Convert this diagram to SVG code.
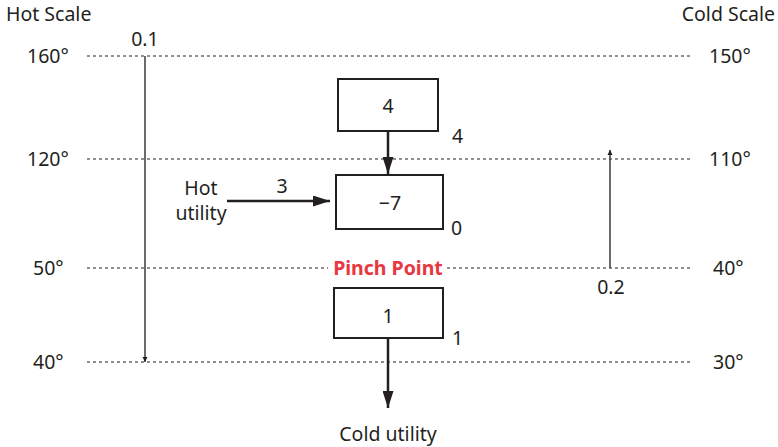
<svg xmlns="http://www.w3.org/2000/svg" width="778" height="447" viewBox="0 0 778 447">
<defs>
<style>
text{font-family:"Noto Sans","Open Sans",sans-serif;font-size:19.5px;fill:#231f20}
.dash{stroke:#231f20;stroke-width:1;stroke-dasharray:3 3;fill:none}
.thin{stroke:#3a3a3a;stroke-width:1.5;fill:none}
.thick{stroke:#231f20;stroke-width:2.5;fill:none}
.box{fill:#fff;stroke:#231f20;stroke-width:2}
.m{text-anchor:middle}
</style>
<marker id="sm" viewBox="0 0 10 10" refX="10" refY="5" markerWidth="5" markerHeight="8" markerUnits="userSpaceOnUse" orient="auto"><path d="M0,0L10,5L0,10z" fill="#231f20"/></marker>
<marker id="lg" viewBox="0 0 10 10" refX="10" refY="5" markerWidth="17" markerHeight="11" markerUnits="userSpaceOnUse" orient="auto" preserveAspectRatio="none"><path d="M0,0L10,5L0,10z" fill="#231f20"/></marker>
</defs>
<g id="scales">
<text x="6" y="21">Hot Scale</text>
<text x="775" y="21" text-anchor="end">Cold Scale</text>
<text x="27" y="63">160°</text>
<text x="27" y="166">120°</text>
<text x="33" y="275">50°</text>
<text x="33" y="369">40°</text>
<text x="709" y="63">150°</text>
<text x="709" y="166">110°</text>
<text x="713" y="275">40°</text>
<text x="713" y="369">30°</text>
<line class="dash" x1="87" y1="56" x2="692" y2="56"/>
<line class="dash" x1="87" y1="159" x2="692" y2="159"/>
<line class="dash" x1="87" y1="268" x2="328" y2="268"/>
<line class="dash" x1="447" y1="268" x2="692" y2="268"/>
<line class="dash" x1="87" y1="362" x2="692" y2="362"/>
<text x="388" y="275" class="m" style="fill:#e8373f;font-weight:bold">Pinch Point</text>
</g>
<g id="connectors">
<line class="thin" x1="145" y1="56" x2="145" y2="362" marker-end="url(#sm)"/>
<line class="thin" x1="610" y1="268" x2="610" y2="150" marker-end="url(#sm)"/>
<line class="thick" x1="388" y1="131" x2="388" y2="174" marker-end="url(#lg)"/>
<line class="thick" x1="227" y1="201" x2="330" y2="201" marker-end="url(#lg)"/>
<line class="thick" x1="388" y1="338" x2="388" y2="408" marker-end="url(#lg)"/>
<text x="145" y="46" class="m">0.1</text>
<text x="611" y="294" class="m">0.2</text>
<text x="282" y="193" class="m">3</text>
</g>
<g id="box4">
<rect class="box" x="338" y="79" width="100" height="52"/>
<text x="388" y="113" class="m">4</text>
<text x="452" y="143">4</text>
</g>
<g id="box-7">
<rect class="box" x="336" y="175" width="107" height="54"/>
<text x="390" y="210" class="m">−7</text>
<text x="451" y="235">0</text>
</g>
<g id="box1">
<rect class="box" x="334" y="288" width="109" height="50"/>
<text x="388" y="323" class="m">1</text>
<text x="452" y="345">1</text>
</g>
<g id="hot-utility">
<text x="201" y="195" class="m">Hot</text>
<text x="201" y="220" class="m">utility</text>
</g>
<g id="cold-utility">
<text x="388" y="441" class="m">Cold utility</text>
</g>
</svg>
